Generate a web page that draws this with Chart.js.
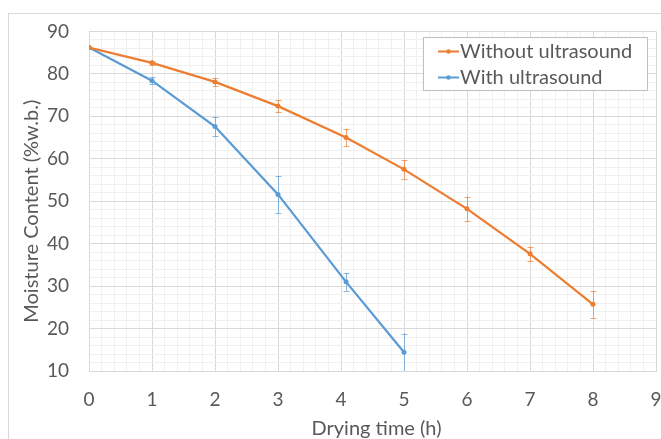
<!DOCTYPE html>
<html>
<head>
<meta charset="utf-8">
<script src="https://cdn.jsdelivr.net/npm/chart.js@4.4.1/dist/chart.umd.min.js"></script>
<style>
  html, body { margin: 0; padding: 0; background: #ffffff; }
  #wrap { width: 661px; height: 439px; position: relative; }
</style>
</head>
<body>
<div id="wrap"><canvas id="c" width="661" height="439"></canvas></div>
<script>
// ---- data ----
const seriesNames = ["Without ultrasound", "With ultrasound"];
const timeWithout = [0, 1, 2, 3, 4.08, 5, 6, 7, 8];
const moistureWithout = [86.2, 82.6, 78.1, 72.4, 65.0, 57.5, 48.2, 37.6, 25.7];
const errWithout = [0, 0.5, 1.0, 1.5, 2.1, 2.2, 2.9, 1.7, 3.1];
const timeWith = [0, 1, 2, 3, 4.08, 5];
const moistureWith = [86.2, 78.4, 67.6, 51.6, 31.0, 14.4];
const errWith = [0, 0.8, 2.3, 4.4, 2.1, 4.4];
const xTickLabels = ["0", "1", "2", "3", "4", "5", "6", "7", "8", "9"];
const yTickLabels = ["10", "20", "30", "40", "50", "60", "70", "80", "90"];
const xTitle = "Drying time (h)";
const yTitle = "Moisture Content (%w.b.)";

const ORANGE = "#ED7D31";
const BLUE = "#5B9BD5";
const TEXT = "#595959";
const FONT = "Lato, 'Open Sans', sans-serif";

function pts(xs, ys) { return xs.map((x, i) => ({ x: x, y: ys[i] })); }

function isMajor(v, step) {
  const r = v / step;
  return Math.abs(r - Math.round(r)) < 1e-6;
}

const errorBars = {
  id: "errorBars",
  afterDatasetsDraw(chart) {
    const ctx = chart.ctx;
    const xs = chart.scales.x, ys = chart.scales.y;
    const area = chart.chartArea;
    chart.data.datasets.forEach((ds) => {
      const errs = ds.errors || [];
      ctx.save();
      ctx.beginPath();
      ctx.rect(area.left, area.top, area.right - area.left, area.bottom - area.top);
      ctx.clip();
      ctx.strokeStyle = ds.borderColor;
      ctx.globalAlpha = 0.7;
      ctx.lineWidth = 1;
      ds.data.forEach((p, i) => {
        const e = errs[i];
        if (!e) return;
        const px = Math.round(xs.getPixelForValue(p.x)) + 0.5;
        const top = ys.getPixelForValue(p.y + e);
        const bot = ys.getPixelForValue(p.y - e);
        ctx.beginPath();
        ctx.moveTo(px, top); ctx.lineTo(px, bot);
        ctx.moveTo(px - 3, Math.round(top) + 0.5); ctx.lineTo(px + 3, Math.round(top) + 0.5);
        ctx.moveTo(px - 3, Math.round(bot) + 0.5); ctx.lineTo(px + 3, Math.round(bot) + 0.5);
        ctx.stroke();
      });
      ctx.restore();
    });
  }
};

const frameAndLegend = {
  id: "frameAndLegend",
  beforeDraw(chart) {
    const ctx = chart.ctx;
    ctx.save();
    ctx.fillStyle = "#ffffff";
    ctx.fillRect(0, 0, chart.width, chart.height);
    ctx.strokeStyle = "#d9d9d9";
    ctx.lineWidth = 1;
    ctx.strokeRect(8.5, 13.5, chart.width + 20, chart.height + 20);
    ctx.restore();
  },
  afterDraw(chart) {
    const ctx = chart.ctx;
    const area = chart.chartArea;
    // axis titles
    ctx.save();
    ctx.fillStyle = TEXT;
    ctx.font = "20px " + FONT;
    ctx.textAlign = "center";
    ctx.textBaseline = "middle";
    ctx.fillText(xTitle, (area.left + area.right) / 2 + 4, 429);
    ctx.translate(32, (area.top + area.bottom) / 2 + 10);
    ctx.rotate(-Math.PI / 2);
    ctx.fillText(yTitle, 0, 0);
    ctx.restore();

    // legend
    const bx = 423.5, by = 37.5, bw = 224, bh = 53;
    ctx.save();
    ctx.fillStyle = "#ffffff";
    ctx.fillRect(bx, by, bw, bh);
    ctx.strokeStyle = "#bfbfbf";
    ctx.lineWidth = 1;
    ctx.strokeRect(bx, by, bw, bh);
    const rows = [51.5, 77.5];
    chart.data.datasets.forEach((ds, i) => {
      const y = rows[i];
      ctx.strokeStyle = ds.borderColor;
      ctx.lineWidth = 2;
      ctx.beginPath();
      ctx.moveTo(438, y); ctx.lineTo(459, y);
      ctx.stroke();
      ctx.fillStyle = ds.borderColor;
      ctx.beginPath();
      ctx.arc(448.5, y, 2.2, 0, Math.PI * 2);
      ctx.fill();
      ctx.fillStyle = TEXT;
      ctx.font = "20px " + FONT;
      ctx.textBaseline = "middle";
      ctx.textAlign = "left";
      ctx.fillText(ds.label, 460, y + 0.5);
    });
    ctx.restore();
  }
};

new Chart(document.getElementById("c"), {
  type: "scatter",
  data: {
    datasets: [
      {
        label: seriesNames[0],
        data: pts(timeWithout, moistureWithout),
        errors: errWithout,
        showLine: true,
        borderColor: ORANGE,
        backgroundColor: ORANGE,
        borderWidth: 2.25,
        pointRadius: 2.5,
        pointBorderWidth: 0,
        tension: 0
      },
      {
        label: seriesNames[1],
        data: pts(timeWith, moistureWith),
        errors: errWith,
        showLine: true,
        borderColor: BLUE,
        backgroundColor: BLUE,
        borderWidth: 2.25,
        pointRadius: 2.5,
        pointBorderWidth: 0,
        tension: 0
      }
    ]
  },
  options: {
    responsive: false,
    animation: false,
    devicePixelRatio: 1,
    layout: { padding: { top: 27, right: 0, left: 0, bottom: 0 } },
    plugins: {
      legend: { display: false },
      tooltip: { enabled: false }
    },
    scales: {
      x: {
        type: "linear",
        min: 0, max: 9,
        ticks: {
          stepSize: 0.2,
          autoSkip: false,
          maxRotation: 0,
          color: TEXT,
          font: { family: FONT, size: 19 },
          padding: 17,
          callback: (v) => isMajor(v, 1) ? xTickLabels[Math.round(v)] : ""
        },
        grid: {
          color: (c) => isMajor(c.tick.value, 1) ? "#d9d9d9" : "#f0f0f0",
          lineWidth: 1,
          drawTicks: false
        },
        border: { display: true, color: "#d9d9d9" },
        title: { display: false },
        afterFit: (s) => { s.height = 68; s.paddingRight = 5; }
      },
      y: {
        type: "linear",
        min: 10, max: 90,
        ticks: {
          stepSize: 2,
          autoSkip: false,
          color: TEXT,
          font: { family: FONT, size: 19 },
          padding: 20,
          callback: (v) => isMajor(v, 10) ? yTickLabels[Math.round(v / 10) - 1] : ""
        },
        grid: {
          color: (c) => isMajor(c.tick.value, 10) ? "#d9d9d9" : "#f0f0f0",
          lineWidth: 1,
          drawTicks: false
        },
        border: { display: true, color: "#d9d9d9" },
        title: { display: false },
        afterFit: (s) => { s.width = 89; }
      }
    }
  },
  plugins: [frameAndLegend, errorBars]
});
</script>
</body>
</html>
